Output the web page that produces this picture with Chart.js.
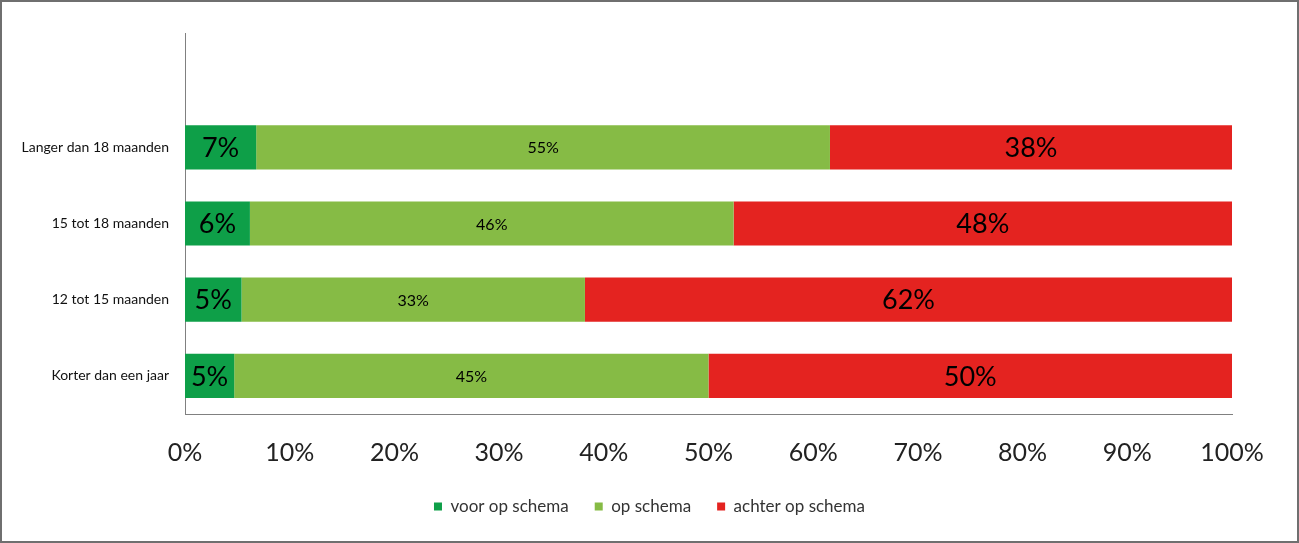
<!DOCTYPE html>
<html>
<head>
<meta charset="utf-8">
<script src="https://cdn.jsdelivr.net/npm/chart.js@4/dist/chart.umd.min.js"></script>
<style>
  html, body { margin: 0; padding: 0; background: #fff; }
  #wrap { width: 1299px; height: 543px; position: relative; }
</style>
</head>
<body>
<div id="wrap"><canvas id="myChart" width="1299" height="543"></canvas></div>
<script>
// categories, top to bottom (first one is the empty slot above the bars)
const categories = ['', 'Langer dan 18 maanden', '15 tot 18 maanden', '12 tot 15 maanden', 'Korter dan een jaar']

// percentages
const voorOpSchema = [null, 6.8, 6.2, 5.4, 4.7]
const opSchema = [null, 54.8, 46.2, 32.8, 45.3]
const achterOpSchema = [null, 38.4, 47.6, 61.8, 50.0]

const tickValues = [0, 10, 20, 30, 40, 50, 60, 70, 80, 90, 100]

const font = 'Lato'

// draws the value in the middle of every bar
const barLabels = {
  id: 'barLabels',
  afterDatasetsDraw(chart) {
    const ctx = chart.ctx
    chart.data.datasets.forEach((ds, i) => {
      const meta = chart.getDatasetMeta(i)
      meta.data.forEach((bar, j) => {
        const v = ds.data[j]
        if (v == null) return
        const x = (bar.x + bar.base) / 2
        ctx.save()
        ctx.fillStyle = '#000'
        ctx.font = ds.labelSize + 'px ' + font
        ctx.textAlign = 'center'
        ctx.textBaseline = 'middle'
        ctx.fillText(Math.round(v) + '%', x, bar.y + 1)
        ctx.restore()
      })
    })
  }
}

// white page with the grey frame round it, legend centred on the page
const frame = {
  id: 'frame',
  afterLayout(chart) {
    const shift = (chart.width - (chart.legend.left + chart.legend.right)) / 2
    chart.legend.left += shift
    chart.legend.right += shift
  },
  beforeDraw(chart) {
    const ctx = chart.ctx
    ctx.save()
    ctx.fillStyle = '#fff'
    ctx.fillRect(0, 0, chart.width, chart.height)
    ctx.restore()
  },
  afterDraw(chart) {
    const ctx = chart.ctx
    ctx.save()
    ctx.strokeStyle = '#6f6f6f'
    ctx.lineWidth = 2
    ctx.strokeRect(1, 1, chart.width - 2, chart.height - 2)
    ctx.restore()
  }
}

const find = document.getElementById('myChart')
let myChart = new Chart(find, {
  type: 'bar',
  data: {
    labels: categories,
    datasets: [
      { label: 'voor op schema', data: voorOpSchema, backgroundColor: '#0E9F48', labelSize: 27 },
      { label: 'op schema', data: opSchema, backgroundColor: '#86BB45', labelSize: 16 },
      { label: 'achter op schema', data: achterOpSchema, backgroundColor: '#E42320', labelSize: 27 }
    ]
  },
  options: {
    responsive: false,
    animation: false,
    indexAxis: 'y',
    layout: { padding: { top: 33, right: 67, left: 0, bottom: 18 } },
    datasets: {
      bar: { categoryPercentage: 1, barPercentage: 0.58 }
    },
    scales: {
      x: {
        stacked: true,
        min: 0,
        max: 100,
        afterBuildTicks: (axis) => { axis.ticks = tickValues.map(v => ({ value: v })) },
        afterFit: (axis) => { axis.height = 58 },
        grid: { display: false, drawTicks: false },
        border: { display: true, color: '#808080', width: 1 },
        ticks: {
          padding: 24,
          color: '#222',
          font: { family: font, size: 25 },
          callback: (v) => v + '%'
        }
      },
      y: {
        stacked: true,
        afterFit: (axis) => { axis.width = 185 },
        grid: { display: false, drawTicks: false },
        border: { display: true, color: '#808080', width: 1 },
        ticks: {
          padding: 16,
          color: '#111',
          font: { family: font, size: 14 }
        }
      }
    },
    plugins: {
      tooltip: { enabled: false },
      legend: {
        position: 'bottom',
        labels: {
          color: '#333',
          font: { family: font, size: 17 },
          boxWidth: 8,
          boxHeight: 8,
          padding: 26
        }
      }
    }
  },
  plugins: [barLabels, frame]
});
</script>
</body>
</html>
